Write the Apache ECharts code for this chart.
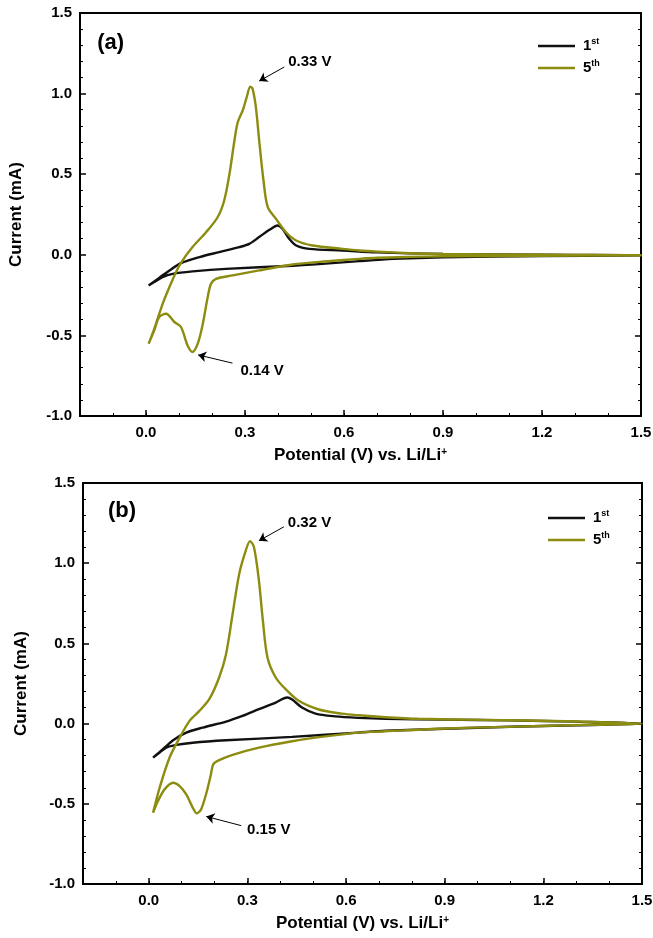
<!DOCTYPE html>
<html>
<head>
<meta charset="utf-8">
<script src="https://cdn.jsdelivr.net/npm/echarts@6/dist/echarts.min.js"></script>
<style>
  html, body { margin: 0; padding: 0; background: #fff; }
  #chart { width: 653px; height: 938px; }
</style>
</head>
<body>
<div id="chart"></div>
<script>
// ---------- data: [potential (V), current (mA)] ----------
const aFirst = [
  [0.008,-0.19],[0.04,-0.143],[0.071,-0.097],[0.106,-0.052],[0.162,-0.014],[0.222,0.017],
  [0.283,0.048],[0.313,0.068],[0.343,0.11],[0.374,0.155],[0.399,0.182],[0.414,0.161],
  [0.434,0.099],[0.455,0.058],[0.495,0.037],[0.596,0.027],[0.7,0.015],[0.9,0.005],
  [1.2,0.0],[1.5,-0.003],
  [1.2,-0.008],[0.9,-0.015],[0.75,-0.025],[0.646,-0.039],[0.544,-0.055],[0.444,-0.068],
  [0.242,-0.087],[0.141,-0.103],[0.081,-0.118],[0.05,-0.138],[0.025,-0.169],[0.008,-0.19]
];
const aFifth = [
  [0.008,-0.552],[0.025,-0.46],[0.04,-0.366],[0.055,-0.28],[0.071,-0.2],[0.088,-0.12],
  [0.106,-0.05],[0.141,0.048],[0.182,0.14],[0.217,0.233],[0.237,0.337],[0.253,0.502],
  [0.268,0.709],[0.278,0.822],[0.293,0.895],[0.305,0.977],[0.316,1.043],[0.323,1.029],
  [0.333,0.915],[0.343,0.709],[0.356,0.461],[0.369,0.295],[0.394,0.223],[0.424,0.14],
  [0.455,0.089],[0.505,0.058],[0.596,0.037],[0.646,0.027],[0.7,0.02],[0.8,0.01],
  [0.9,0.005],[1.2,0.0],[1.5,-0.003],
  [1.2,-0.006],[0.9,-0.01],[0.8,-0.013],[0.7,-0.018],[0.646,-0.025],[0.55,-0.04],
  [0.444,-0.06],[0.343,-0.097],[0.263,-0.128],[0.212,-0.149],[0.197,-0.18],[0.187,-0.262],
  [0.172,-0.43],[0.157,-0.55],[0.141,-0.603],[0.126,-0.562],[0.106,-0.448],[0.086,-0.417],
  [0.061,-0.366],[0.04,-0.386],[0.025,-0.469],[0.008,-0.552]
];
const bFirst = [
  [0.013,-0.2125],[0.043,-0.16],[0.074,-0.104],[0.114,-0.056],[0.164,-0.025],[0.235,0.0125],
  [0.285,0.048],[0.335,0.09],[0.386,0.131],[0.421,0.1625],[0.436,0.15],[0.466,0.1],
  [0.507,0.062],[0.567,0.045],[0.637,0.036],[0.72,0.03],[0.9,0.025],[1.1,0.02],
  [1.3,0.012],[1.5,0.0],
  [1.3,-0.01],[1.1,-0.02],[0.9,-0.032],[0.72,-0.045],[0.637,-0.056],[0.436,-0.083],
  [0.235,-0.104],[0.134,-0.119],[0.084,-0.133],[0.053,-0.15],[0.033,-0.18],[0.013,-0.2125]
];
const bFifth = [
  [0.013,-0.556],[0.033,-0.4],[0.063,-0.2125],[0.094,-0.0875],[0.124,0.017],[0.154,0.079],
  [0.184,0.152],[0.214,0.2875],[0.235,0.433],[0.255,0.683],[0.275,0.933],[0.295,1.079],
  [0.308,1.1375],[0.32,1.1],[0.335,0.892],[0.347,0.642],[0.361,0.4125],[0.386,0.2875],
  [0.416,0.215],[0.456,0.142],[0.517,0.088],[0.587,0.062],[0.637,0.052],[0.718,0.04],
  [0.819,0.03],[1.02,0.023],[1.27,0.015],[1.5,0.0],
  [1.32,-0.008],[1.12,-0.019],[0.92,-0.029],[0.718,-0.048],[0.637,-0.056],[0.537,-0.08],
  [0.436,-0.11],[0.335,-0.15],[0.255,-0.195],[0.214,-0.228],[0.196,-0.254],[0.189,-0.317],
  [0.174,-0.442],[0.159,-0.535],[0.146,-0.56],[0.134,-0.525],[0.114,-0.442],[0.094,-0.39],
  [0.074,-0.369],[0.048,-0.41],[0.028,-0.483],[0.013,-0.556]
];
const seriesNames = ['1st', '5th'];
const xMajorTicks = [0.0, 0.3, 0.6, 0.9, 1.2, 1.5];
const panelLabels = ['(a)', '(b)'];
// annotations in data coordinates: text anchor, arrow tail, arrow head
const annotA = [
  { text: '0.33 V', at: [0.431, 1.196], from: [0.419, 1.165], to: [0.343, 1.078] },
  { text: '0.14 V', at: [0.286, -0.72], from: [0.262, -0.672], to: [0.158, -0.621] }
];
const annotB = [
  { text: '0.32 V', at: [0.423, 1.252], from: [0.411, 1.227], to: [0.335, 1.14] },
  { text: '0.15 V', at: [0.299, -0.66], from: [0.281, -0.636], to: [0.175, -0.579] }
];
const panelLabelPos = [[-0.148, 1.314], [-0.124, 1.327]];

// ---------- styling ----------
const FONT = '"Liberation Sans", Arial, sans-serif';
const OLIVE = '#8c8c10';
const BLACK = '#111111';

const grids = [
  { left: 80, top: 13, right: 12, height: 403 },
  { left: 83, top: 483, right: 11, height: 401 }
];

function xAxes(gi) {
  return [
    {
      gridIndex: gi, type: 'value', min: -0.2, max: 1.5, position: 'bottom',
      name: '{a|Potential (V) vs. Li/Li}{s|+}',
      nameLocation: 'middle', nameGap: 31,
      nameTextStyle: {
        rich: {
          a: { fontFamily: FONT, fontWeight: 'bold', fontSize: 17, color: '#000' },
          s: { fontFamily: FONT, fontWeight: 'bold', fontSize: 10, color: '#000', verticalAlign: 'top', lineHeight: 14 }
        }
      },
      axisLine: { show: true, onZero: false, lineStyle: { color: '#000', width: 2 } },
      axisTick: { show: true, inside: true, length: 6, customValues: xMajorTicks, lineStyle: { color: '#000', width: 1.5 } },
      axisLabel: {
        show: true, customValues: xMajorTicks, margin: 9,
        formatter: v => v.toFixed(1),
        fontFamily: FONT, fontWeight: 'bold', fontSize: 15, color: '#000'
      },
      splitLine: { show: false }
    },
    {
      gridIndex: gi, type: 'value', min: -0.2, max: 1.5, interval: 0.1, position: 'bottom',
      axisLine: { show: false, onZero: false },
      axisTick: { show: true, inside: true, length: 3, lineStyle: { color: '#000', width: 1 } },
      axisLabel: { show: false },
      splitLine: { show: false }
    }
  ];
}

function yAxes(gi, gap) {
  const common = {
    gridIndex: gi, type: 'value', min: -1.0, max: 1.5, interval: 0.5,
    axisLine: { show: true, onZero: false, lineStyle: { color: '#000', width: 2 } },
    axisTick: { show: true, inside: true, length: 6, lineStyle: { color: '#000', width: 1.5 } },
    minorTick: { show: true, splitNumber: 5, length: 3, lineStyle: { color: '#000', width: 1 } },
    splitLine: { show: false }
  };
  return [
    Object.assign({}, common, {
      position: 'left',
      name: 'Current (mA)', nameLocation: 'middle', nameGap: gap, nameRotate: 90,
      nameTextStyle: { fontFamily: FONT, fontWeight: 'bold', fontSize: 17, color: '#000' },
      axisLabel: { margin: 8, formatter: v => v.toFixed(1), fontFamily: FONT, fontWeight: 'bold', fontSize: 15, color: '#000' }
    }),
    Object.assign({}, common, { position: 'right', axisLabel: { show: false } })
  ];
}

function annotSeries(gi, annots, labelPos, label) {
  const xi = gi * 2, yi = gi * 2;
  return {
    type: 'line', xAxisIndex: xi, yAxisIndex: yi, data: [], silent: true,
    markLine: {
      silent: true, animation: false,
      symbol: ['none', 'arrow'], symbolSize: 8,
      lineStyle: { color: '#000', width: 1, type: 'solid' },
      itemStyle: { color: '#000' },
      label: { show: false },
      data: annots.map(a => [{ coord: a.from }, { coord: a.to }])
    },
    markPoint: {
      silent: true, animation: false,
      symbol: 'circle', symbolSize: 0,
      label: {
        show: true, position: 'right', distance: 0,
        fontFamily: FONT, fontWeight: 'bold', color: '#000'
      },
      data: annots.map(a => ({ coord: a.at, value: a.text, label: { formatter: a.text, fontSize: 15 } }))
        .concat([{ coord: labelPos, value: label, label: { formatter: label, fontSize: 22 } }])
    }
  };
}

function curve(name, data, color, gi) {
  return {
    name, type: 'line', xAxisIndex: gi * 2, yAxisIndex: gi * 2, data,
    showSymbol: false, smooth: 0.3, clip: true,
    lineStyle: { color, width: 2.4 }, itemStyle: { color },
    z: name === '1st' ? 3 : 4
  };
}

const legendRich = {
  n: { fontFamily: FONT, fontWeight: 'bold', fontSize: 15, color: '#000', padding: [0, 0, 0, 3] },
  s: { fontFamily: FONT, fontWeight: 'bold', fontSize: 9, color: '#000', verticalAlign: 'top' }
};
function legend(left, top) {
  return {
    left, top, orient: 'vertical', padding: 0, itemGap: 4,
    icon: 'rect', itemWidth: 37, itemHeight: 2.5,
    data: seriesNames.map(n => ({ name: n })),
    selectedMode: false,
    formatter: n => '{n|' + n.charAt(0) + '}{s|' + n.slice(1) + '}',
    textStyle: { rich: legendRich, lineHeight: 18 }
  };
}

const chart = echarts.init(document.getElementById('chart'), null, { renderer: 'canvas' });
chart.setOption({
  animation: false,
  backgroundColor: '#fff',
  grid: grids.map(g => Object.assign({ show: true, borderColor: '#000', borderWidth: 2, backgroundColor: 'transparent', containLabel: false, outerBoundsMode: 'none' }, g)),
  legend: [legend(538, 37), legend(548, 509)],
  xAxis: xAxes(0).concat(xAxes(1)),
  yAxis: yAxes(0, 55).concat(yAxes(1, 53)),
  series: [
    curve(seriesNames[0], aFirst, BLACK, 0),
    curve(seriesNames[1], aFifth, OLIVE, 0),
    curve(seriesNames[0], bFirst, BLACK, 1),
    curve(seriesNames[1], bFifth, OLIVE, 1),
    annotSeries(0, annotA, panelLabelPos[0], panelLabels[0]),
    annotSeries(1, annotB, panelLabelPos[1], panelLabels[1])
  ]
});
</script>
</body>
</html>
